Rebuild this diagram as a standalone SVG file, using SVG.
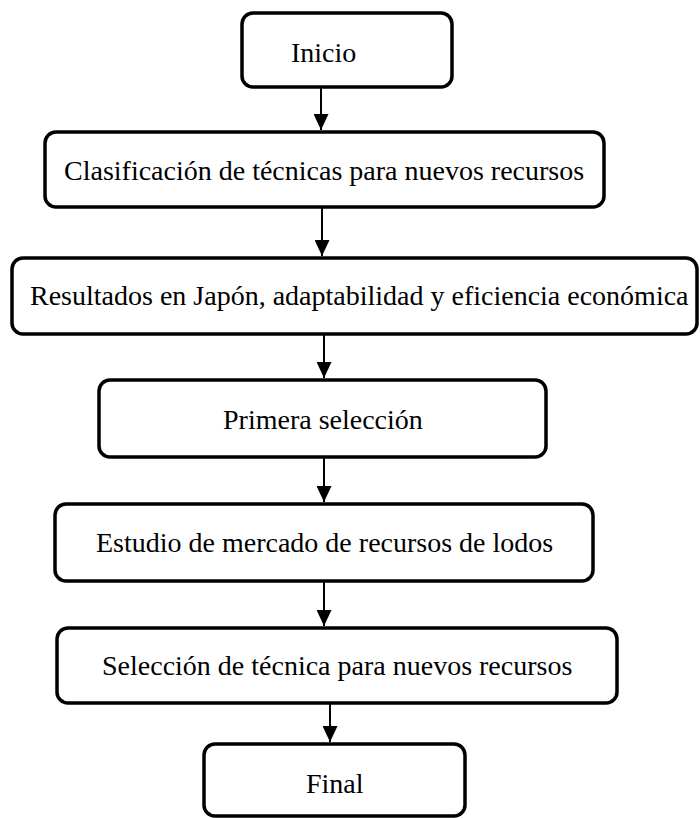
<svg xmlns="http://www.w3.org/2000/svg" width="700" height="818" viewBox="0 0 700 818">
<style>
.box{fill:#fff;stroke:#000;stroke-width:3.5}
.lbl{font-family:"Liberation Serif","Times New Roman",serif;font-size:28px;fill:#000}
.con{stroke:#000;stroke-width:2;fill:none}
</style>
<defs>
<marker id="ah" markerUnits="userSpaceOnUse" markerWidth="16" markerHeight="15" refX="16" refY="7.5" orient="auto">
<path d="M0,0 L16,7.5 L0,15 Z" fill="#000"/>
</marker>
</defs>
<rect width="700" height="818" fill="#fff"/>
<g id="connectors">
<line class="con" x1="321" y1="87" x2="321" y2="130" marker-end="url(#ah)"/>
<line class="con" x1="322" y1="207" x2="322" y2="256" marker-end="url(#ah)"/>
<line class="con" x1="324" y1="334" x2="324" y2="378" marker-end="url(#ah)"/>
<line class="con" x1="324" y1="457" x2="324" y2="502" marker-end="url(#ah)"/>
<line class="con" x1="324" y1="581" x2="324" y2="626" marker-end="url(#ah)"/>
<line class="con" x1="330" y1="703" x2="330" y2="742" marker-end="url(#ah)"/>
</g>
<g id="n1"><rect class="box" x="242" y="13" width="210" height="74" rx="11"/><text class="lbl" x="291" y="62">Inicio</text></g>
<g id="n2"><rect class="box" x="45" y="132" width="559" height="75" rx="11"/><text class="lbl" x="64" y="180">Clasificación de técnicas para nuevos recursos</text></g>
<g id="n3"><rect class="box" x="12" y="258" width="685" height="76" rx="11"/><text class="lbl" x="30" y="305">Resultados en Japón, adaptabilidad y eficiencia económica</text></g>
<g id="n4"><rect class="box" x="99" y="380" width="447" height="77" rx="11"/><text class="lbl" x="223" y="429">Primera selección</text></g>
<g id="n5"><rect class="box" x="55" y="504" width="538" height="77" rx="11"/><text class="lbl" x="96" y="552">Estudio de mercado de recursos de lodos</text></g>
<g id="n6"><rect class="box" x="57" y="628" width="560" height="75" rx="11"/><text class="lbl" x="102" y="675">Selección de técnica para nuevos recursos</text></g>
<g id="n7"><rect class="box" x="204" y="744" width="261" height="72" rx="11"/><text class="lbl" x="306" y="793">Final</text></g>
</svg>
